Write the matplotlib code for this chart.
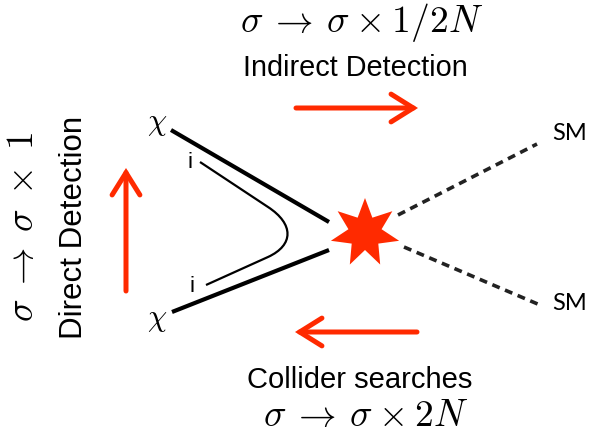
import numpy as np
import matplotlib.pyplot as plt
from matplotlib.path import Path
from matplotlib.patches import PathPatch, Polygon

plt.rcParams['mathtext.fontset'] = 'cm'

# labels
top_math = r'$\sigma \:\rightarrow\: \sigma \:\times\: 1/2N$'
top_label = 'Indirect Detection'
bottom_label = 'Collider searches'
bottom_math = r'$\sigma \:\rightarrow\: \sigma \:\times\: 2N$'
left_math = r'$\sigma \;\rightarrow\; \sigma \;\times\; 1$'
left_label = 'Direct Detection'
dm_label = r'$\chi$'
med_label = 'i'
sm_label = 'SM'

red = '#ff2a00'

fig = plt.figure(figsize=(5.9, 4.38), dpi=100)
ax = fig.add_axes([0, 0, 1, 1])
ax.set_xlim(0, 590)
ax.set_ylim(438, 0)
ax.axis('off')

# incoming DM lines
ax.plot([171, 329], [130, 222], color='black', lw=3, solid_capstyle='butt')
ax.plot([172, 329], [312, 250], color='black', lw=3, solid_capstyle='butt')

# inner mediator curve
verts = [(200, 162), (268, 207), (294, 224), (294, 245), (268, 257), (206, 285)]
codes = [Path.MOVETO, Path.LINETO, Path.CURVE4, Path.CURVE4, Path.CURVE4, Path.LINETO]
ax.add_patch(PathPatch(Path(verts, codes), fill=False, lw=1.6, color='black'))

# outgoing SM dashed lines
ax.plot([398, 537], [215, 144], color='#222222', lw=2.6, ls=(0, (2.2, 1.6)))
ax.plot([404, 540], [247, 305], color='#222222', lw=2.6, ls=(0, (2.2, 1.6)))

# star
n = 7
ang = np.pi / 2 + np.arange(2 * n) * np.pi / n
rad = np.where(np.arange(2 * n) % 2 == 0, 35, 17)
cx, cy = 365, 233
pts = np.column_stack([cx + rad * np.cos(ang), cy - rad * np.sin(ang)])
ax.add_patch(Polygon(pts, closed=True, color=red, lw=0))

# brush-like arrows
arrow_kw = dict(arrowstyle='->,head_length=1.6,head_width=1.0', color=red, lw=3.6,
                shrinkA=0, shrinkB=0, joinstyle='miter')
for tail, tip in [((296, 108), (418, 108)), ((417, 332), (295, 332)), ((126, 291), (126, 168))]:
    ax.annotate('', xy=tip, xytext=tail, arrowprops=arrow_kw)

# texts
ax.text(362, 22, top_math, fontsize=27, ha='center', va='center')
ax.text(355, 68, top_label, fontsize=20.8, family='Liberation Sans', ha='center', va='center')
ax.text(360, 380, bottom_label, fontsize=21, family='Liberation Sans', ha='center', va='center')
ax.text(366, 416, bottom_math, fontsize=27, ha='center', va='center')
ax.text(23, 227, left_math, fontsize=27, ha='center', va='center', rotation=90)
ax.text(74, 227, left_label, fontsize=22.5, family='Liberation Sans', ha='center', va='center',
        rotation=90)

ax.text(157, 123, dm_label, fontsize=22, ha='center', va='center')
ax.text(157, 320, dm_label, fontsize=22, ha='center', va='center')
ax.text(190, 163, med_label, fontsize=16, family='Liberation Sans', ha='center', va='center')
ax.text(192, 287, med_label, fontsize=16, family='Liberation Sans', ha='center', va='center')
ax.text(570, 134, sm_label, fontsize=17, family='Lato', ha='center', va='center')
ax.text(570, 304, sm_label, fontsize=17, family='Lato', ha='center', va='center')

fig.savefig('out.png', dpi=100)
